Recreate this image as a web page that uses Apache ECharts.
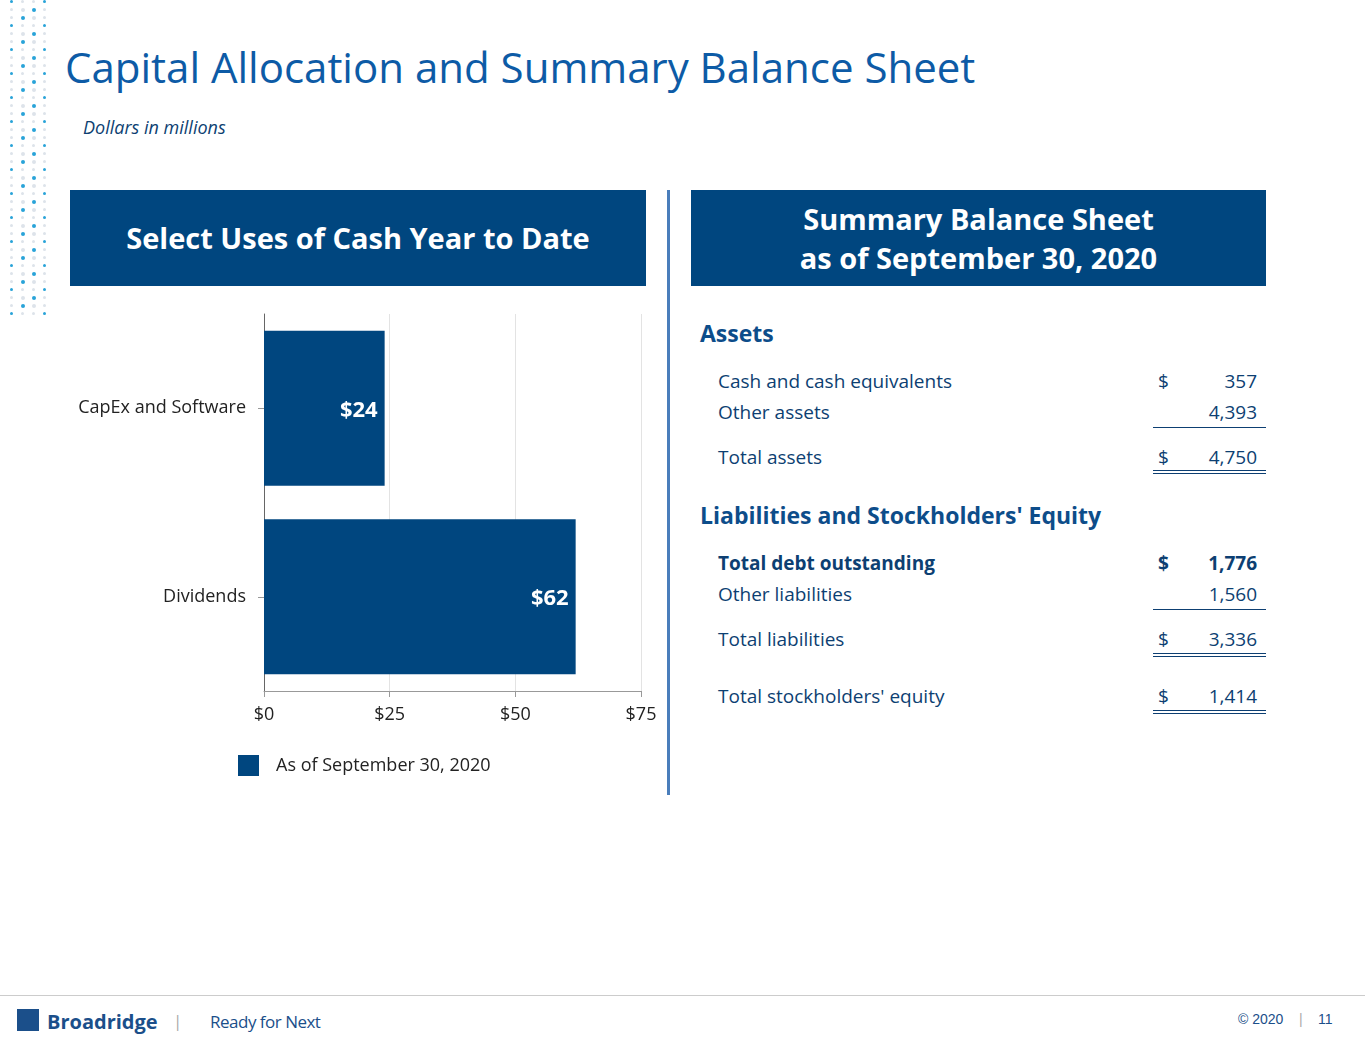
<!DOCTYPE html>
<html>
<head>
<meta charset="UTF-8">
<script src="https://cdn.jsdelivr.net/npm/echarts@6/dist/echarts.min.js"></script>
<style>
body{margin:0;width:1365px;height:1055px;position:relative;background:#fff;font-family:'Open Sans',sans-serif;overflow:hidden}
.abs{position:absolute}
.hdr{background:#00467f;color:#fff;font-weight:bold;text-align:center;display:flex;align-items:center;justify-content:center;line-height:1.35}
.row{position:absolute;left:718px;width:548px;height:30px;font-size:19px;color:#0d3f72}
.row .d{position:absolute;left:440px}
.row .v{position:absolute;right:9px}
.ul{position:absolute;left:1153px;width:113px;border-top:1.5px solid #0d3f72}
.sec{position:absolute;left:700px;font-size:23px;font-weight:bold;color:#0d4d8a}
</style>
</head>
<body>
<div class="abs" style="left:65px;top:38px;font-size:42px;color:#0d5ba6">Capital Allocation and Summary Balance Sheet</div>
<div class="abs" style="left:83px;top:115px;font-size:18px;font-style:italic;color:#0d3f72">Dollars in millions</div>
<div class="abs" id="dots" style="left:10px;top:0;width:50px;height:315px"></div>

<div class="abs hdr" style="left:70px;top:190px;width:576px;height:96px;font-size:29px">Select Uses of Cash Year to Date</div>
<div class="abs hdr" style="left:691px;top:190px;width:575px;height:96px;font-size:29px">Summary Balance Sheet<br>as of September 30, 2020</div>
<div class="abs" style="left:667px;top:190px;width:3px;height:605px;background:#4a7ebb"></div>

<div class="abs" id="chart" style="left:0;top:300px;width:668px;height:490px"></div>

<div class="sec" style="top:317px">Assets</div>
<div class="row" style="top:368px">Cash and cash equivalents<span class="d">$</span><span class="v">357</span></div>
<div class="row" style="top:399px">Other assets<span class="v">4,393</span></div>
<div class="ul" style="top:427px"></div>
<div class="row" style="top:444px">Total assets<span class="d">$</span><span class="v">4,750</span></div>
<div class="ul" style="top:470px"></div><div class="ul" style="top:473px"></div>
<div class="sec" style="top:499px">Liabilities and Stockholders' Equity</div>
<div class="row" style="top:550px;font-weight:bold">Total debt outstanding<span class="d">$</span><span class="v">1,776</span></div>
<div class="row" style="top:581px">Other liabilities<span class="v">1,560</span></div>
<div class="ul" style="top:609px"></div>
<div class="row" style="top:626px">Total liabilities<span class="d">$</span><span class="v">3,336</span></div>
<div class="ul" style="top:653px"></div><div class="ul" style="top:656px"></div>
<div class="row" style="top:683px">Total stockholders' equity<span class="d">$</span><span class="v">1,414</span></div>
<div class="ul" style="top:710px"></div><div class="ul" style="top:713px"></div>

<div class="abs" style="left:0;top:995px;width:1365px;border-top:1px solid #ccc"></div>
<div class="abs" style="left:17px;top:1009px;width:22px;height:22px;background:#1b4f8a"></div>
<div class="abs" style="left:47px;top:1008px;font-size:20px;font-weight:bold;color:#1b4f8a">Broadridge</div>
<div class="abs" style="left:173px;top:1009px;font-size:17px;color:#aaa">|</div>
<div class="abs" style="left:210px;top:1010px;font-size:17px;color:#1b4f8a;letter-spacing:-0.5px">Ready for Next</div>
<div class="abs" style="left:1238px;top:1011px;font-size:14px;color:#1b4f8a;font-family:'Liberation Sans'">© 2020 &nbsp;&nbsp;&nbsp;<span style="color:#aaa">|</span>&nbsp;&nbsp;&nbsp;&nbsp;11</div>

<script>
const categories = ['CapEx and Software', 'Dividends'];
const values = [24, 62];
const seriesName = 'As of September 30, 2020';

// decorative dot column
const dots = document.getElementById('dots');
for (let c = 0; c < 4; c++) for (let r = 0; r < 40; r++) {
  const d = document.createElement('div');
  const s = (c === 1 || c === 2) && r % 3 ? 4 : 3;
  d.style.cssText = `position:absolute;left:${c*11}px;top:${r*8}px;width:${s}px;height:${s}px;border-radius:50%;background:${(c+r)%3?'#dde3ea':'#29a3d8'}`;
  dots.appendChild(d);
}

const chart = echarts.init(document.getElementById('chart'));
chart.setOption({
  animation: false,
  grid: {left: 264, right: 27, top: 14, bottom: 99},
  legend: {left: 233, top: 450, itemWidth: 21, itemHeight: 21, itemGap: 10, icon: 'rect',
    textStyle: {fontSize: 18, color: '#222', fontFamily: 'Open Sans', padding: [0, 0, 0, 12]}},
  xAxis: {type: 'value', min: 0, max: 75, interval: 25,
    axisLine: {show: true, lineStyle: {color: '#999'}},
    axisTick: {show: true, length: 6, lineStyle: {color: '#999'}},
    splitLine: {lineStyle: {color: '#e3e3e3'}},
    axisLabel: {formatter: '${value}', fontSize: 18, color: '#222', margin: 15, fontFamily: 'Open Sans'}},
  yAxis: {type: 'category', data: categories, inverse: true,
    axisLine: {lineStyle: {color: '#666'}},
    axisTick: {show: true, alignWithLabel: true, length: 6, lineStyle: {color: '#999'}},
    axisLabel: {fontSize: 18, color: '#222', margin: 18, fontFamily: 'Open Sans', padding: [6, 0, 0, 0]}},
  series: [{name: seriesName, type: 'bar', data: values, barWidth: 155,
    itemStyle: {color: '#00467f'},
    label: {show: true, position: 'insideRight', formatter: '${c}', color: '#fff', fontWeight: 'bold', fontSize: 22, fontFamily: 'Open Sans', offset: [-2, 2]}}]
});
</script>
</body>
</html>
